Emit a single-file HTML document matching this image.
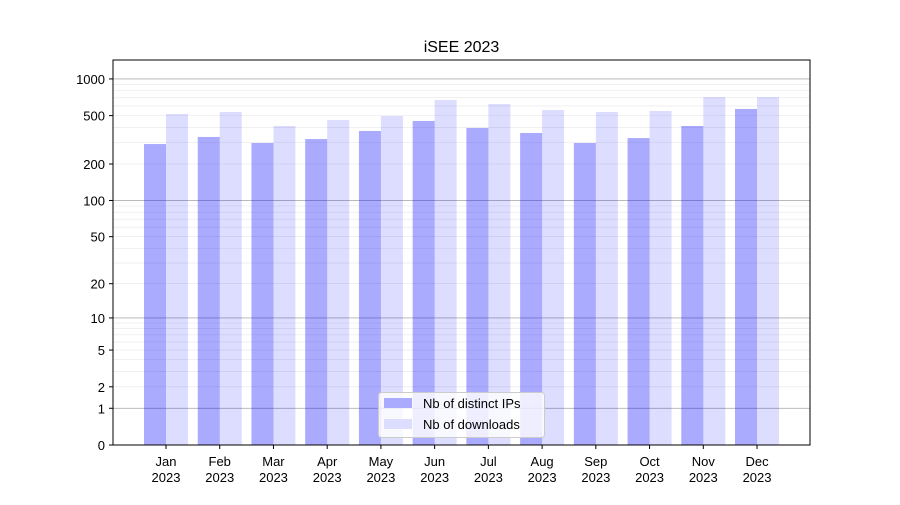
<!DOCTYPE html>
<html><head><meta charset="utf-8"><style>
body{margin:0;background:#fff;}
svg text{font-family:"Liberation Sans","DejaVu Sans",sans-serif;}
</style></head><body>
<svg id="chart" width="900" height="500" xmlns="http://www.w3.org/2000/svg">
<rect width="900" height="500" fill="#fff"/>
<text x="461.5" y="52" text-anchor="middle" font-size="16">iSEE 2023</text>
<g id="grid"></g>
<g id="bars"></g>
<rect x="113" y="60" width="697" height="385" fill="none" stroke="#000" stroke-width="1"/>
<g id="axes"></g>
<g>
<rect x="378.5" y="392.5" width="166" height="45" rx="3" fill="#fff" fill-opacity="0.8" stroke="#ccc"/>
<rect x="384" y="398" width="28" height="10" fill="#aaaaff"/>
<text x="423" y="408" font-size="13">Nb of distinct IPs</text>
<rect x="384" y="419" width="28" height="10" fill="#ddddff"/>
<text x="423" y="429" font-size="13">Nb of downloads</text>
</g>
</svg>
<script>
const months=["Jan","Feb","Mar","Apr","May","Jun","Jul","Aug","Sep","Oct","Nov","Dec"];
const ips=[292,334,298,321,374,452,396,360,298,327,411,567];
const downloads=[516,536,411,460,497,672,623,556,536,546,711,711];
const yTicks=[0,1,2,5,10,20,50,100,200,500,1000];
const majorGrid=[1,10,100,1000];
const NS="http://www.w3.org/2000/svg";
function y(v){return 445-122*Math.log10(1+v);}
function xc(i){return 166+i*53.73;}
function mk(t,a,p){const e=document.createElementNS(NS,t);for(const k in a)e.setAttribute(k,a[k]);p.appendChild(e);return e;}
const grid=document.getElementById('grid'),bars=document.getElementById('bars'),axes=document.getElementById('axes');
for(let d=1;d<=1000;d*=10){for(let m=2;m<=9;m++){const v=d*m;if(v>1000)break;
 const l=mk('line',{x1:113,x2:810,y1:y(v),y2:y(v),stroke:'#e6e6e6','stroke-width':0.6},grid);
 
 }}
majorGrid.forEach(v=>{const l=mk('line',{x1:113,x2:810,y1:y(v),y2:y(v),stroke:'#b0b0b0','stroke-width':0.9},grid);
 
 });
months.forEach((m,i)=>{
 const b1=mk('rect',{x:xc(i)-22,y:y(ips[i]),width:22,height:445-y(ips[i]),fill:'#0000ff','fill-opacity':0.333},bars);
 
 
 const b2=mk('rect',{x:xc(i),y:y(downloads[i]),width:22,height:445-y(downloads[i]),fill:'#0000ff','fill-opacity':0.133},bars);
 
 
 mk('line',{x1:xc(i),x2:xc(i),y1:445,y2:449,stroke:'#000'},axes);
 const t=mk('text',{x:xc(i),y:466,'text-anchor':'middle','font-size':13},axes);
 t.textContent=m;
 
 
 const t2=mk('text',{x:xc(i),y:482,'text-anchor':'middle','font-size':13},axes);
 t2.textContent='2023';
 
 
});
yTicks.forEach(v=>{
 mk('line',{x1:109,x2:113,y1:y(v),y2:y(v),stroke:'#000'},axes);
 const t=mk('text',{x:105,y:y(v)+5,'text-anchor':'end','font-size':13},axes);
 t.textContent=v;
 
 
});
</script>
</body></html>
